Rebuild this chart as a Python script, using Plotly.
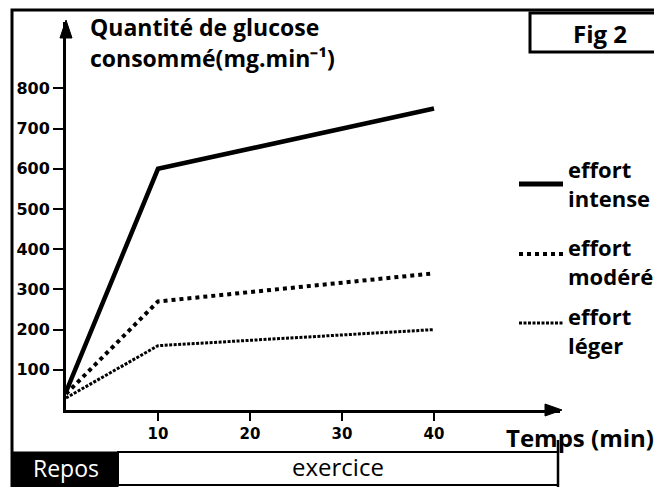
import plotly.graph_objects as go

# ---- data ----
temps = [0, 10, 40]
effort_intense = [45, 600, 750]
effort_modere = [40, 270, 340]
effort_leger = [30, 160, 200]
x_ticks = [10, 20, 30, 40]
y_ticks = [100, 200, 300, 400, 500, 600, 700, 800]

W, H = 662, 487
OFF = 8  # default body margin of the html page
X0PX, X1PX, Y0PX, Y1PX = 66, 560, 410, 22   # page coords of plot area
XMAX = (X1PX - X0PX) / 9.2
YMAX = (Y0PX - Y1PX) / 0.402

def px(x):
    return (x - X0PX) / (X1PX - X0PX)

def py(y):
    return (Y0PX - y) / (Y0PX - Y1PX)

FONT = "Open Sans"

fig = go.Figure()
fig.add_trace(go.Scatter(x=temps, y=effort_intense, mode="lines",
                         line=dict(color="black", width=4.5), showlegend=False))
fig.add_trace(go.Scatter(x=temps, y=effort_modere, mode="lines",
                         line=dict(color="black", width=4, dash="dot"), showlegend=False))
fig.add_trace(go.Scatter(x=temps, y=effort_leger, mode="lines",
                         line=dict(color="black", width=3, dash="3px,1.5px"), showlegend=False))

shapes = []
ann = []

def text(x, y, s, size, anchor="left", color="black"):
    ann.append(dict(xref="paper", yref="paper", x=px(x), y=py(y), text=s,
                    showarrow=False, xanchor=anchor, yanchor="middle", align="left",
                    font=dict(family=FONT, size=size, color=color)))

# outer border
shapes.append(dict(type="rect", xref="paper", yref="paper",
                   x0=px(12), x1=px(659), y0=py(10), y1=py(492),
                   line=dict(color="black", width=3)))
# Fig 2 box
shapes.append(dict(type="rect", xref="paper", yref="paper",
                   x0=px(530), x1=px(662), y0=py(13), y1=py(52),
                   fillcolor="white", line=dict(color="black", width=3)))
text(600, 33, "<b>Fig 2</b>", 24, "center")

# title
text(88, 27, "<b>Quantité de glucose</b>", 23)
text(88, 58, "<b>consommé(mg.min⁻¹)</b>", 23)

# axis arrows (triangles)
shapes.append(dict(type="path", xref="paper", yref="paper",
                   path="M %f %f L %f %f L %f %f Z" % (px(X0PX), py(20), px(X0PX - 6), py(38), px(X0PX + 6), py(38)),
                   fillcolor="black", line=dict(color="black", width=1)))
shapes.append(dict(type="path", xref="paper", yref="paper",
                   path="M %f %f L %f %f L %f %f Z" % (px(562), py(Y0PX), px(545), py(Y0PX - 6), px(545), py(Y0PX + 6)),
                   fillcolor="black", line=dict(color="black", width=1)))

# x axis title
text(656, 437, "<b>Temps (min)</b>", 24, "right")

# legend
leg = [
    (184, dict(color="black", width=5), "effort<br>intense", 184),
    (254, dict(color="black", width=4, dash="dot"), "effort<br>modéré", 261),
    (323, dict(color="black", width=3, dash="3px,1.5px"), "effort<br>léger", 330),
]
for ly, lst, t, ty in leg:
    shapes.append(dict(type="line", xref="paper", yref="paper",
                       x0=px(519), x1=px(563), y0=py(ly), y1=py(ly), line=lst))
    text(566, ty, "<b>" + t + "</b>", 22)

# bottom bar
shapes.append(dict(type="rect", xref="paper", yref="paper",
                   x0=px(12), x1=px(118), y0=py(452), y1=py(492),
                   fillcolor="black", line=dict(color="black", width=1)))
shapes.append(dict(type="rect", xref="paper", yref="paper",
                   x0=px(118), x1=px(558), y0=py(452), y1=py(485),
                   fillcolor="white", line=dict(color="black", width=2)))
shapes.append(dict(type="line", xref="paper", yref="paper",
                   x0=px(558), x1=px(558), y0=py(440), y1=py(492),
                   line=dict(color="black", width=2.5)))
text(66, 468, "Repos", 23, "center", "white")
text(338, 467, "exercice", 24, "center")

fig.update_layout(
    width=W, height=H, autosize=False,
    margin=dict(l=X0PX - OFF, r=W - (X1PX - OFF), t=Y1PX - OFF, b=H - (Y0PX - OFF)),
    paper_bgcolor="white", plot_bgcolor="white",
    showlegend=False, shapes=shapes, annotations=ann,
    xaxis=dict(range=[0, XMAX], showgrid=False, zeroline=False, automargin=False,
               showline=True, linecolor="black", linewidth=3,
               ticks="outside", tickvals=x_ticks, ticktext=["<b>%d</b>" % v for v in x_ticks],
               ticklen=8, tickwidth=2, tickcolor="black",
               tickfont=dict(family="DejaVu Sans", size=15, color="black")),
    yaxis=dict(range=[0, YMAX], showgrid=False, zeroline=False, automargin=False,
               showline=True, linecolor="black", linewidth=3,
               ticks="outside", tickvals=y_ticks, ticktext=["<b>%d</b>" % v for v in y_ticks],
               ticklen=10, tickwidth=2, tickcolor="black",
               tickfont=dict(family="DejaVu Sans", size=16, color="black")),
)

fig.write_html("out.html")
